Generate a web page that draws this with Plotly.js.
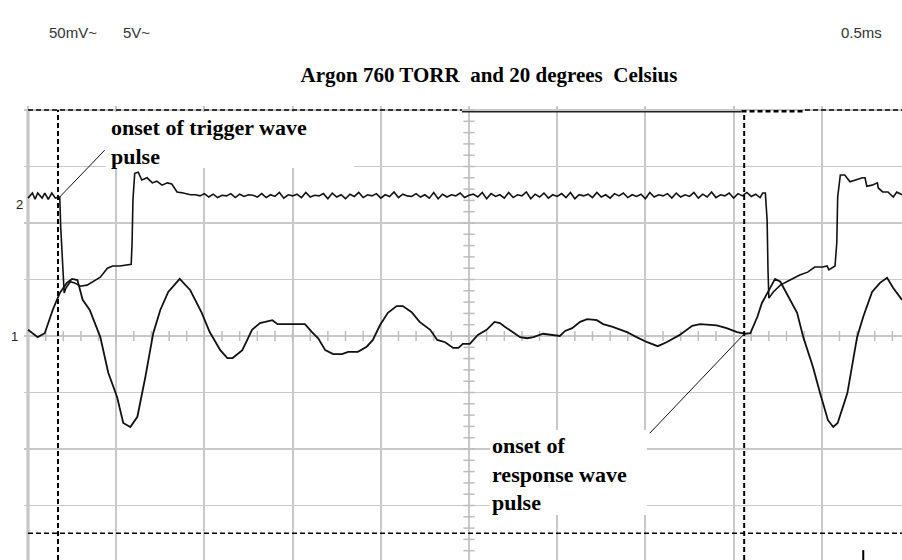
<!DOCTYPE html>
<html>
<head>
<meta charset="utf-8">
<script src="https://cdn.plot.ly/plotly-3.0.1.min.js"></script>
<style>
html,body{margin:0;padding:0;background:#ffffff;}
#chart{width:902px;height:560px;}
</style>
</head>
<body>
<div id="chart"></div>
<script>
// Horizontal unit: screen divisions (0.5 ms / div); vertical unit: screen divisions from centre line
const responseX = [0.00,0.11,0.19,0.28,0.36,0.44,0.50,0.56,0.62,0.70,
  0.82,0.91,1.01,1.08,1.16,1.24,1.33,1.42,1.50,1.59,
  1.72,1.84,1.97,2.06,2.18,2.26,2.32,2.43,2.54,2.63,
  2.69,2.77,2.83,3.14,3.22,3.29,3.37,3.46,3.56,3.63,
  3.74,3.84,3.91,3.99,4.08,4.18,4.25,4.35,4.44,4.56,
  4.64,4.73,4.82,4.88,4.93,5.01,5.10,5.20,5.29,5.35,
  5.41,5.50,5.58,5.66,5.73,5.84,5.92,6.03,6.09,6.17,
  6.26,6.34,6.45,6.52,6.63,6.79,6.90,7.02,7.14,7.24,
  7.39,7.53,7.62,7.81,7.92,8.04,8.13,8.19,8.27,8.32,
  8.39,8.47,8.53,8.62,8.72,8.79,8.90,8.98,9.07,9.13,
  9.18,9.29,9.40,9.47,9.57,9.66,9.74,9.81,9.91];
const responseY = [0.11,-0.02,0.05,0.46,0.76,0.94,1.01,0.99,0.64,0.46,
  -0.02,-0.65,-1.08,-1.54,-1.61,-1.43,-0.73,0.05,0.46,0.78,
  1.01,0.81,0.41,0.07,-0.25,-0.39,-0.39,-0.25,0.11,0.23,
  0.25,0.28,0.21,0.21,0.07,-0.04,-0.25,-0.32,-0.32,-0.28,
  -0.28,-0.19,-0.07,0.19,0.41,0.53,0.53,0.42,0.25,0.11,
  -0.07,-0.11,-0.21,-0.21,-0.14,-0.14,0.02,0.11,0.25,0.23,
  0.16,0.07,-0.02,-0.04,-0.02,0.04,0.02,0.00,0.09,0.14,
  0.25,0.30,0.28,0.21,0.16,0.07,-0.02,-0.11,-0.18,-0.11,
  0.02,0.18,0.21,0.19,0.14,0.07,0.04,0.05,0.34,0.58,
  0.78,1.01,0.96,0.69,0.41,-0.02,-0.55,-1.01,-1.49,-1.61,
  -1.54,-1.01,-0.02,0.34,0.78,0.94,1.03,0.85,0.64];

const triggerX = [0.00,0.05,0.08,0.11,0.16,0.19,0.23,0.27,0.31,0.34,
  0.36,0.37,0.39,0.41,0.43,0.48,0.53,0.59,0.67,0.74,
  0.82,0.90,0.96,1.04,1.13,1.17,1.18,1.19,1.21,1.25,
  1.29,1.35,1.41,1.46,1.52,1.58,1.63,1.69,1.76,1.84,
  1.90,1.95,2.00,2.05,2.10,2.15,2.20,2.25,2.30,2.35,
  2.40,2.45,2.50,2.55,2.60,2.65,2.70,2.75,2.80,2.85,
  2.90,2.95,3.00,3.05,3.10,3.15,3.20,3.25,3.30,3.35,
  3.40,3.45,3.50,3.55,3.60,3.65,3.70,3.75,3.80,3.85,
  3.90,3.95,4.00,4.05,4.10,4.15,4.20,4.25,4.30,4.35,
  4.40,4.45,4.50,4.55,4.60,4.65,4.70,4.75,4.80,4.85,
  4.90,4.95,5.00,5.05,5.10,5.15,5.20,5.25,5.30,5.35,
  5.40,5.45,5.50,5.55,5.60,5.65,5.70,5.75,5.80,5.85,
  5.90,5.95,6.00,6.05,6.10,6.15,6.20,6.25,6.30,6.35,
  6.40,6.45,6.50,6.55,6.60,6.65,6.70,6.75,6.80,6.85,
  6.90,6.95,7.00,7.05,7.10,7.15,7.20,7.25,7.30,7.35,
  7.40,7.45,7.50,7.55,7.60,7.65,7.70,7.75,7.80,7.85,
  7.90,7.95,8.00,8.05,8.10,8.15,8.20,8.25,8.30,
  8.33,8.36,8.38,8.39,8.40,8.45,8.53,8.64,8.75,8.84,
  8.92,9.01,9.06,9.08,9.15,9.17,9.18,9.21,9.26,9.32,
  9.38,9.46,9.49,9.51,9.57,9.63,9.64,9.69,9.75,9.81,
  9.85,9.91];
const triggerY = [2.44,2.53,2.42,2.53,2.44,2.53,2.42,2.53,2.44,2.46,
  2.46,1.96,1.31,0.76,0.85,0.96,0.94,0.88,0.90,0.96,
  1.04,1.20,1.24,1.24,1.27,1.27,1.65,2.41,2.88,2.90,
  2.76,2.80,2.71,2.74,2.67,2.71,2.69,2.55,2.53,2.50,
  2.50,2.48,2.52,2.46,2.51,2.45,2.49,2.48,2.52,2.45,
  2.51,2.47,2.50,2.49,2.46,2.52,2.45,2.50,2.47,2.54,
  2.44,2.50,2.48,2.51,2.45,2.54,2.46,2.49,2.48,2.52,
  2.43,2.53,2.46,2.50,2.43,2.51,2.47,2.54,2.45,2.50,
  2.48,2.52,2.44,2.50,2.47,2.55,2.45,2.51,2.48,2.47,
  2.52,2.46,2.50,2.44,2.54,2.43,2.51,2.46,2.50,2.48,
  2.53,2.45,2.49,2.51,2.46,2.54,2.43,2.52,2.47,2.50,
  2.44,2.54,2.45,2.50,2.48,2.55,2.43,2.51,2.46,2.53,
  2.44,2.50,2.47,2.52,2.45,2.54,2.43,2.50,2.48,2.51,
  2.45,2.54,2.46,2.50,2.44,2.52,2.48,2.53,2.45,2.50,
  2.47,2.51,2.43,2.54,2.46,2.50,2.48,2.52,2.44,2.53,
  2.46,2.50,2.47,2.54,2.44,2.51,2.46,2.55,2.45,2.50,
  2.48,2.53,2.44,2.52,2.48,2.54,2.47,2.51,2.45,
  2.53,2.53,2.05,1.17,0.67,0.78,0.90,0.99,1.08,1.13,
  1.22,1.22,1.24,1.17,1.24,1.65,2.46,2.85,2.85,2.73,
  2.76,2.80,2.80,2.65,2.67,2.71,2.62,2.55,2.55,2.46,
  2.55,2.50];

const cursorVerticalX = [0.34, 8.12];
const cursorHorizontalY = [-3.49, 4.00];
const channelLabels = ['2', '1'];
const channelLevels = [2.32, 0.00];
const headerLabels = ['50mV~', '5V~', '0.5ms'];
const titleText = 'Argon 760 TORR\u00a0 and 20 degrees\u00a0 Celsius';
const triggerNote = 'onset of trigger wave<br>pulse';
const responseNote = 'onset of<br>response wave<br>pulse';

// ---- page geometry (pixels) ----
const W = 902, H = 560, L = 24, T = 106;
const DX = 88.2, DY = 56.5, X0 = 28, Y0 = 336;
const fx = p => (p - L) / (W - L);
const fy = p => (H - p) / (H - T);
const xRange = [(L - X0) / DX, (W - X0) / DX];
const yRange = [(Y0 - H) / DY, (Y0 - T) / DY];
const xMax = xRange[1];

// minor graticule ticks on the centre lines
const tickHX = [], tickHY = [], tickVX = [], tickVY = [];
for (let k = 1; k < 50; k++) { tickHX.push(k * 0.2); tickHY.push(0); }
for (let k = -19; k <= 20; k++) { tickVX.push(5); tickVY.push(k * 0.2); }

const tickColor = '#bdbdbd';
const traces = [
  {x: tickHX, y: tickHY, type: 'scatter', mode: 'markers', hoverinfo: 'skip',
   marker: {symbol: 'line-ns-open', size: 7, color: tickColor, line: {width: 1.5, color: tickColor}}},
  {x: tickVX, y: tickVY, type: 'scatter', mode: 'markers', hoverinfo: 'skip',
   marker: {symbol: 'line-ew-open', size: 8, color: tickColor, line: {width: 1.5, color: tickColor}}},
  {x: responseX, y: responseY, type: 'scatter', mode: 'lines', name: 'response',
   line: {color: '#111111', width: 1.8}},
  {x: triggerX, y: triggerY, type: 'scatter', mode: 'lines', name: 'trigger',
   line: {color: '#111111', width: 1.6}}
];

const dash = '5px,3px';
const shapes = [
  {type: 'rect', xref: 'x', yref: 'y', layer: 'above', x0: (106 - X0) / DX, x1: (354 - X0) / DX,
   y0: (Y0 - 168) / DY, y1: (Y0 - 112) / DY, fillcolor: '#ffffff', line: {width: 0}},
  {type: 'rect', xref: 'x', yref: 'y', layer: 'above', x0: (490 - X0) / DX, x1: (647 - X0) / DX,
   y0: (Y0 - 515) / DY, y1: (Y0 - 430) / DY, fillcolor: '#ffffff', line: {width: 0}},
  {type: 'line', xref: 'x', yref: 'y', layer: 'below', x0: 0, x1: 0, y0: yRange[0], y1: 4,
   line: {color: '#b4b4b4', width: 3}},
  {type: 'line', xref: 'x', yref: 'y', x0: cursorVerticalX[0], x1: cursorVerticalX[0], y0: yRange[0], y1: 4,
   line: {color: '#000', width: 2, dash: dash}},
  {type: 'line', xref: 'x', yref: 'y', x0: cursorVerticalX[1], x1: cursorVerticalX[1], y0: yRange[0], y1: 4,
   line: {color: '#000', width: 2, dash: dash}},
  {type: 'line', xref: 'x', yref: 'y', x0: 0, x1: xMax, y0: cursorHorizontalY[0], y1: cursorHorizontalY[0],
   line: {color: '#000', width: 1.5, dash: dash}},
  {type: 'line', xref: 'x', yref: 'y', x0: 0, x1: 4.92, y0: cursorHorizontalY[1], y1: cursorHorizontalY[1],
   line: {color: '#000', width: 1.5, dash: dash}},
  {type: 'line', xref: 'x', yref: 'y', x0: 8.81, x1: xMax, y0: cursorHorizontalY[1], y1: cursorHorizontalY[1],
   line: {color: '#000', width: 1.5, dash: dash}},
  {type: 'line', xref: 'x', yref: 'y', x0: 4.92, x1: 8.09, y0: 3.97, y1: 3.97,
   line: {color: '#222', width: 1.5}},
  {type: 'line', xref: 'x', yref: 'y', x0: 8.09, x1: 8.81, y0: 3.98, y1: 3.98,
   line: {color: '#000', width: 2.5, dash: dash}},
  {type: 'line', xref: 'x', yref: 'y', x0: 0.36, y0: 2.46, x1: 0.87, y1: 3.29,
   line: {color: '#111', width: 1}},
  {type: 'line', xref: 'x', yref: 'y', x0: 7.05, y0: -1.72, x1: 8.11, y1: 0.02,
   line: {color: '#111', width: 1}},
  {type: 'line', xref: 'x', yref: 'y', x0: 9.47, x1: 9.47, y0: -3.79, y1: yRange[0],
   line: {color: '#000', width: 2}}
];

const sansFont = {family: 'Liberation Sans, Arial, sans-serif', size: 15, color: '#333333'};
const serifBold = {family: 'Liberation Serif, Times New Roman, serif', size: 22, color: '#000000', weight: 'bold'};

const annotations = [
  {xref: 'paper', yref: 'paper', x: fx(47), y: fy(33), xanchor: 'left', yanchor: 'middle',
   text: headerLabels[0], showarrow: false, font: sansFont},
  {xref: 'paper', yref: 'paper', x: fx(121), y: fy(33), xanchor: 'left', yanchor: 'middle',
   text: headerLabels[1], showarrow: false, font: sansFont},
  {xref: 'paper', yref: 'paper', x: fx(884), y: fy(33), xanchor: 'right', yanchor: 'middle',
   text: headerLabels[2], showarrow: false, font: sansFont},
  {xref: 'paper', yref: 'y', x: fx(19), y: channelLevels[0], xanchor: 'center', yanchor: 'middle',
   text: channelLabels[0], showarrow: false, font: {family: 'Liberation Sans, Arial, sans-serif', size: 13, color: '#222'}},
  {xref: 'paper', yref: 'y', x: fx(14), y: channelLevels[1], xanchor: 'center', yanchor: 'middle',
   text: channelLabels[1], showarrow: false, font: {family: 'Liberation Sans, Arial, sans-serif', size: 13, color: '#222'}},
  {xref: 'paper', yref: 'paper', x: fx(110), y: fy(142), xanchor: 'left', yanchor: 'middle', align: 'left',
   text: triggerNote, showarrow: false, font: serifBold, borderpad: 0},
  {xref: 'paper', yref: 'paper', x: fx(491), y: fy(474), xanchor: 'left', yanchor: 'middle', align: 'left',
   text: responseNote, showarrow: false, font: serifBold, borderpad: 0}
];

const layout = {
  width: W, height: H,
  margin: {l: L, r: 0, t: T, b: 0, pad: 0},
  paper_bgcolor: '#ffffff', plot_bgcolor: '#ffffff',
  showlegend: false, hovermode: false,
  title: {text: titleText, x: fx(489), xanchor: 'center', y: 1 - 75 / H, yanchor: 'middle',
          xref: 'paper', yref: 'container',
          font: {family: 'Liberation Serif, Times New Roman, serif', size: 21, color: '#000', weight: 'bold'}},
  xaxis: {range: xRange, tick0: 0, dtick: 1, showgrid: true, gridcolor: '#c8c8c8', gridwidth: 2,
          zeroline: false, showticklabels: false, ticks: '', showline: false, fixedrange: true},
  yaxis: {range: yRange, tick0: 0, dtick: 1, showgrid: true, gridcolor: '#c8c8c8', gridwidth: 1.5,
          zeroline: false, showticklabels: false, ticks: '', showline: false, fixedrange: true},
  shapes: shapes,
  annotations: annotations
};

Plotly.newPlot('chart', traces, layout, {displayModeBar: false, staticPlot: true});
</script>
</body>
</html>
